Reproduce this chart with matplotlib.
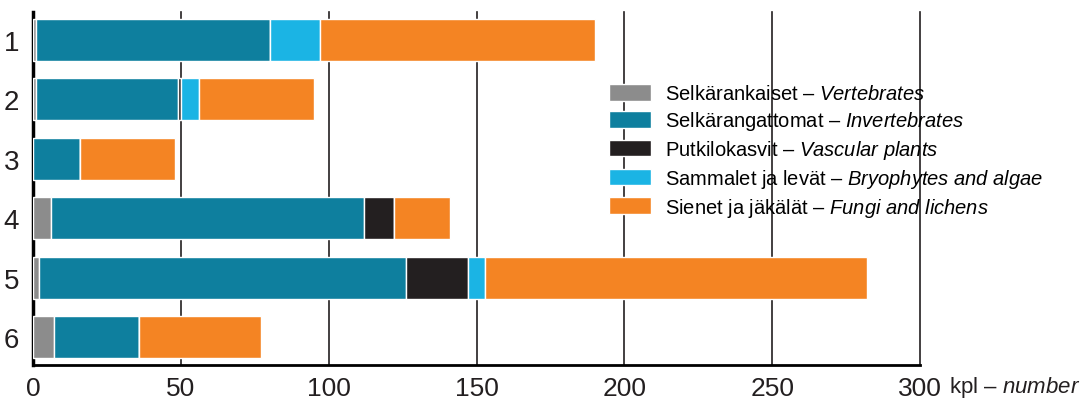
import numpy as np
import matplotlib.pyplot as plt

fam = 'Liberation Sans'
plt.rcParams['font.family'] = [fam, 'DejaVu Sans']
plt.rcParams['mathtext.fontset'] = 'custom'
plt.rcParams['mathtext.rm'] = fam
plt.rcParams['mathtext.it'] = fam + ':italic'

# data (number of species per group)
rows = ['1', '2', '3', '4', '5', '6']
vertebrates = [1, 1, 0, 6, 2, 7]
invertebrates = [79, 48, 16, 106, 124, 29]
vascular = [0, 1, 0, 10, 21, 0]
bryophytes = [17, 6, 0, 0, 6, 0]
fungi = [93, 39, 32, 19, 129, 41]

series = [vertebrates, invertebrates, vascular, bryophytes, fungi]
labels = [r'Selkärankaiset – $\mathit{Vertebrates}$',
          r'Selkärangattomat – $\mathit{Invertebrates}$',
          r'Putkilokasvit – $\mathit{Vascular\ plants}$',
          r'Sammalet ja levät – $\mathit{Bryophytes\ and\ algae}$',
          r'Sienet ja jäkälät – $\mathit{Fungi\ and\ lichens}$']
colors = ['#8c8c8c', '#0e7f9e', '#231f20', '#1bb4e4', '#f48423']

fig = plt.figure(figsize=(10.8, 4.02), dpi=100)
ax = fig.add_axes([33 / 1080, 36 / 402, 887 / 1080, 353 / 402])

y = np.arange(len(rows))
left = np.zeros(len(rows))
for vals, lab, c in zip(series, labels, colors):
    ax.barh(y, vals, left=left, height=0.71, color=c, edgecolor='white',
            linewidth=1.0, label=lab, zorder=2)
    left += np.array(vals)

ax.set_xlim(0, 300)
ax.set_ylim(5.47, -0.47)
ax.set_xticks(np.arange(0, 301, 50))
ax.set_yticks(y)
ax.set_yticklabels(rows)
ax.tick_params(axis='x', length=0, pad=8, labelsize=19, colors='#231f20')
ax.tick_params(axis='y', length=0, pad=10, labelsize=20, colors='#231f20')

ax.grid(axis='x', color='#231f20', linewidth=1.2, zorder=0)
for gl in ax.get_xgridlines():
    gl.set_clip_on(False)
ax.set_axisbelow(True)
for s in ['top', 'right']:
    ax.spines[s].set_visible(False)
ax.spines['left'].set_linewidth(2.5)
ax.spines['bottom'].set_linewidth(2.0)
ax.spines['left'].set_zorder(1)
ax.spines['bottom'].set_zorder(3)

ax.legend(loc='upper left', bbox_to_anchor=(609 / 1080, 1 - 85 / 402),
          bbox_transform=fig.transFigure, frameon=False, fontsize=14.5,
          handlelength=2.1, handleheight=0.9, handletextpad=0.7,
          labelspacing=0.29, borderaxespad=0, borderpad=0)

fig.text(949 / 1080, 1 - 388 / 402, r'kpl – $\mathit{number}$', fontsize=16,
         va='center', ha='left', color='#231f20')

fig.savefig('out.png', dpi=100)
